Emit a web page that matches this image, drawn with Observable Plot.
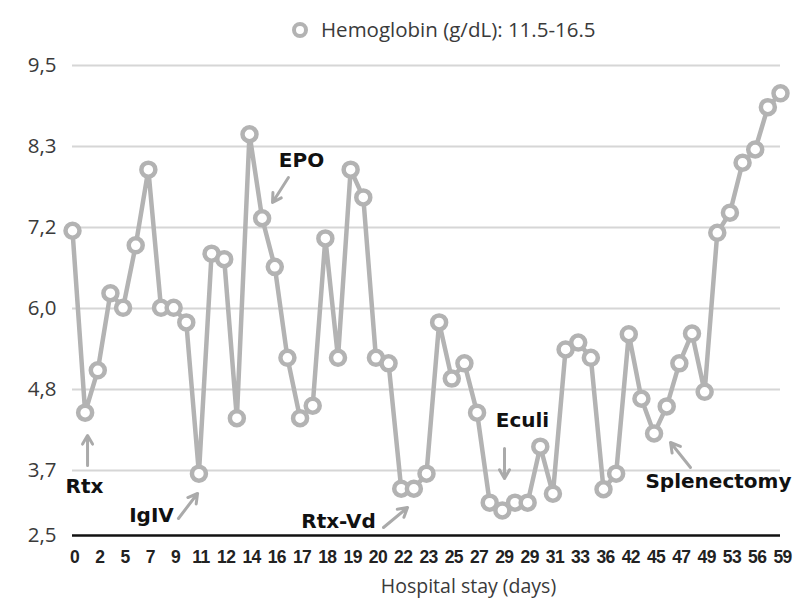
<!DOCTYPE html>
<html>
<head>
<meta charset="utf-8">
<script src="https://cdn.jsdelivr.net/npm/d3@7"></script>
<script src="https://cdn.jsdelivr.net/npm/@observablehq/plot@0.6"></script>
<style>
  html, body { margin: 0; padding: 0; background: #fff; }
  #wrap { width: 795px; }
  #legend { position: relative; height: 50px; width: 795px; font-family: "Open Sans", sans-serif; }
  #legend svg.sw { position: absolute; left: 289px; top: 19px; }
  #legend span { position: absolute; left: 321px; top: 15px; font-size: 20.5px; line-height: 28px; color: #3a3a3a; white-space: nowrap; }
  .xt text { letter-spacing: -0.6px; }
</style>
</head>
<body>
<div id="wrap">
  <div id="legend">
    <svg class="sw" width="22" height="22"><circle cx="11" cy="11" r="6" fill="#fff" stroke="#b3b3b3" stroke-width="4"></circle></svg>
    <span>Hemoglobin (g/dL): 11.5-16.5</span>
  </div>
  <div id="chart"></div>
</div>
<script>
// Measurement index (one per point, in order of the hospital stay)
const pointIndex = d3.range(57);
// Hemoglobin values (g/dL)
const hemoglobin = [
  7.12, 4.50, 5.11, 6.22, 6.01, 6.91, 8.00, 6.01, 6.01, 5.80,
  3.61, 6.79, 6.71, 4.42, 8.51, 7.30, 6.60, 5.29, 4.42, 4.60,
  7.01, 5.29, 8.00, 7.60, 5.29, 5.21, 3.34, 3.34, 3.61, 5.80,
  4.99, 5.21, 4.50, 3.09, 2.95, 3.09, 3.09, 4.01, 3.25, 5.41,
  5.51, 5.29, 3.33, 3.61, 5.63, 4.70, 4.20, 4.59, 5.21, 5.64,
  4.80, 7.09, 7.38, 8.10, 8.29, 8.90, 9.10
];
// X tick labels (hospital day), shown under every other point
const xTickLabels = ["0","2","5","7","9","11","12","14","16","17","18","19","20","22","23","25","27","29","29","31","33","36","42","45","47","49","53","56","59"];
// Y ticks and their labels
const yTicks = [2.5, 11/3, 29/6, 6, 43/6, 25/3, 9.5];
const yTickLabels = ["2,5","3,7","4,8","6,0","7,2","8,3","9,5"];

// Annotations (labels and arrows), in data units
const annText = ["Rtx", "IgIV", "EPO", "Rtx-Vd", "Eculi", "Splenectomy"];
const annTextX = [0.95, 6.25, 18.11, 21.04, 35.59, 51.09];
const annTextY = [3.38, 2.86, 8.13, 2.75, 4.39, 3.47];
const arrowX1 = [1.19, 8.38, 17.08, 24.60, 34.17, 48.88];
const arrowY1 = [3.74, 2.805, 7.887, 2.644, 3.984, 3.710];
const arrowX2 = [1.19, 9.89, 15.82, 26.50, 34.17, 47.30];
const arrowY2 = [4.171, 3.254, 7.527, 3.003, 3.523, 4.070];

const points = pointIndex.map((i) => ({i, v: hemoglobin[i]}));
const xTicks = xTickLabels.map((_, k) => k * 2);
const anns = annText.map((t, k) => ({t, x: annTextX[k], y: annTextY[k]}));
const arrows = annText.map((t, k) => ({x1: arrowX1[k], y1: arrowY1[k], x2: arrowX2[k], y2: arrowY2[k]}));

const chart = Plot.plot({
  width: 795,
  height: 556,
  marginLeft: 72,
  marginRight: 15,
  marginTop: 15,
  marginBottom: 71,
  style: {background: "#fff", overflow: "visible"},
  x: {type: "linear", domain: [0, 56]},
  y: {type: "linear", domain: [2.5, 11/3, 9.5], range: [485, 420, 15]},
  marks: [
    Plot.gridY(yTicks.slice(1), {stroke: "#d6d6d6", strokeOpacity: 1, strokeWidth: 2}),
    Plot.ruleY([2.5], {stroke: "#111", strokeWidth: 2.5}),
    Plot.axisY(yTicks, {
      tickSize: 0, tickPadding: 16,
      tickFormat: (d) => yTickLabels[yTicks.indexOf(d)],
      fontSize: 20.5, fill: "#3a3a3a", fontFamily: "Open Sans", label: null
    }),
    Plot.axisX(xTicks, {
      tickSize: 0, tickPadding: 15, className: "xt",
      tickFormat: (d) => xTickLabels[d / 2],
      fontSize: 17.5, fontWeight: "bold", fill: "#222", fontFamily: "Liberation Sans",
      label: null, dx: 2
    }),
    Plot.text(["Hospital stay (days)"], {
      frameAnchor: "bottom", dy: 57, dx: 42, fontSize: 19.5, fill: "#3a3a3a", fontFamily: "Open Sans"
    }),
    Plot.line(points, {x: "i", y: "v", stroke: "#b3b3b3", strokeWidth: 4.5}),
    Plot.dot(points, {x: "i", y: "v", r: 7, stroke: "#b3b3b3", strokeWidth: 4.5, fill: "#fff"}),
    Plot.arrow(arrows, {x1: "x1", y1: "y1", x2: "x2", y2: "y2", stroke: "#aaaaaa", strokeWidth: 3, headLength: 11}),
    Plot.text(anns, {x: "x", y: "y", text: "t", fontSize: 20, fontWeight: "bold", fill: "#111", fontFamily: "DejaVu Sans"})
  ]
});
document.getElementById("chart").appendChild(chart);
</script>
</body>
</html>
